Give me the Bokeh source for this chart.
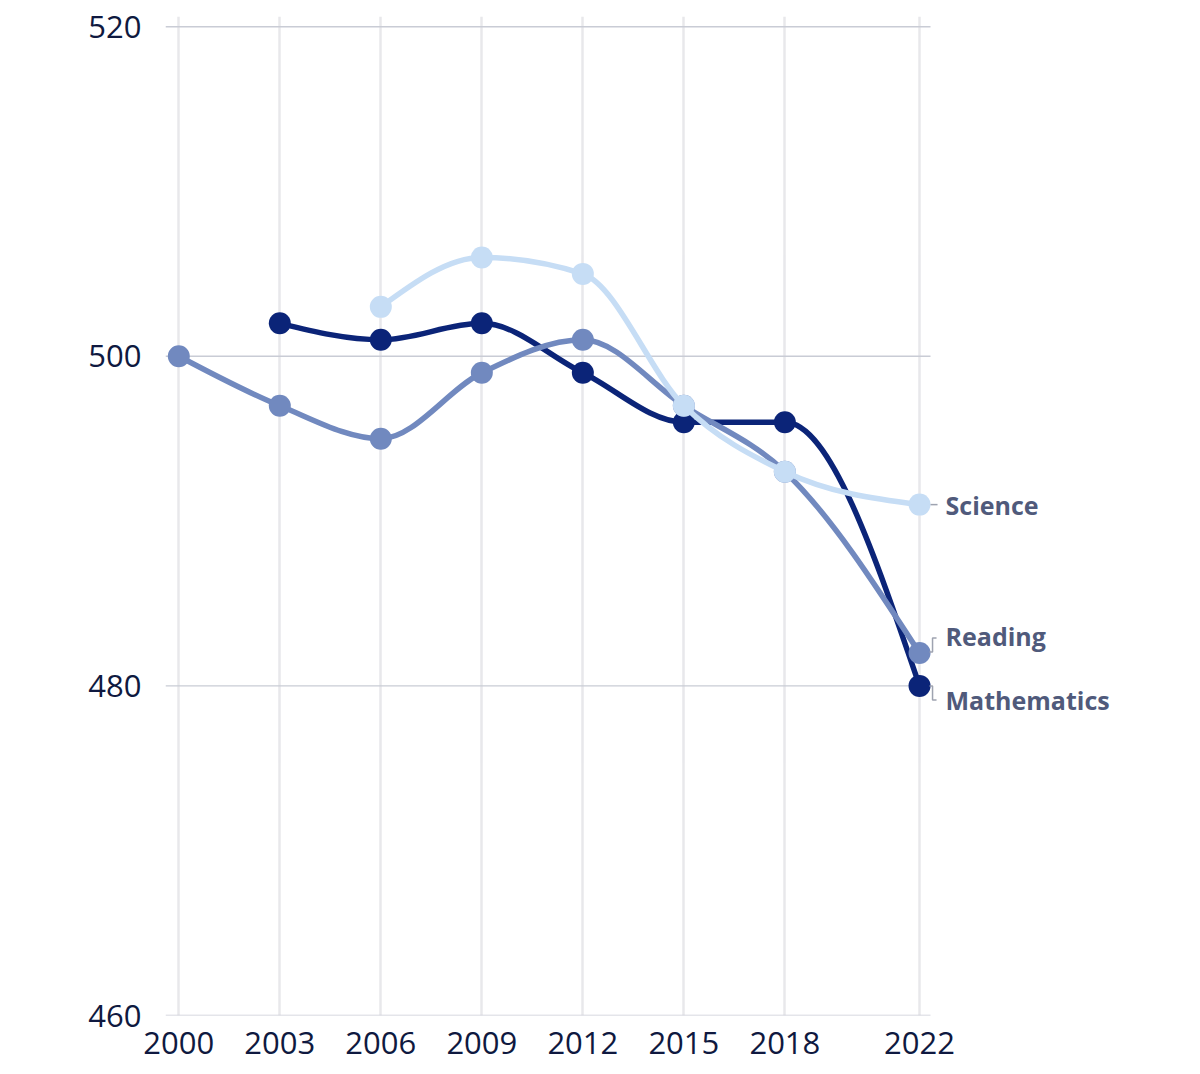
import numpy as np
from bokeh.plotting import figure
from bokeh.models import FixedTicker, ColumnDataSource
from bokeh.core.properties import value
from bokeh.embed import file_html
from bokeh.resources import INLINE

# ---- data ----
years_math = [2003, 2006, 2009, 2012, 2015, 2018, 2022]
math_scores = [502, 501, 502, 499, 496, 496, 480]
years_read = [2000, 2003, 2006, 2009, 2012, 2015, 2018, 2022]
read_scores = [500, 497, 495, 499, 501, 497, 493, 482]
years_sci = [2006, 2009, 2012, 2015, 2018, 2022]
sci_scores = [503, 506, 505, 497, 493, 491]
x_ticks = [2000, 2003, 2006, 2009, 2012, 2015, 2018, 2022]
y_ticks = [460, 480, 500, 520]
series_names = ["Mathematics", "Reading", "Science"]

C_MATH = "#0b2478"
C_READ = "#7189bf"
C_SCI = "#c6ddf5"
C_LABEL = "#505a7b"
C_TICK = "#0f1940"

# ---- layout ----
W, H = 1192, 1068
BL, BR, BT, BB = 165, 6, 16, 53
frame_w = W - BL - BR
frame_h = H - BT - BB
ppy = 33.67          # pixels per year
x_start = 2000 - 13.3 / ppy
x_end = x_start + frame_w / ppy
ppu = 16.48          # pixels per score point
y_start = 460
y_end = y_start + frame_h / ppu
grid_right = 2000 + (930 - 178.3) / ppy

p = figure(width=W, height=H, output_backend="svg", toolbar_location=None,
           x_range=(x_start, x_end), y_range=(y_start, y_end),
           min_border_left=BL, min_border_right=BR, min_border_top=BT, min_border_bottom=BB)
p.outline_line_color = None
p.background_fill_color = "white"

# axes
p.xaxis.ticker = FixedTicker(ticks=x_ticks)
p.yaxis.ticker = FixedTicker(ticks=y_ticks)
for ax in (p.xaxis[0], p.yaxis[0]):
    ax.axis_line_color = None
    ax.major_tick_line_color = None
    ax.minor_tick_line_color = None
    ax.major_label_text_font = "Open Sans"
    ax.major_label_text_font_size = "31px"
    ax.major_label_text_color = C_TICK
p.yaxis.major_label_standoff = 18
p.xaxis.major_label_standoff = 10

# grids
p.ygrid.grid_line_color = None
p.xgrid.ticker = FixedTicker(ticks=x_ticks)
p.xgrid.grid_line_color = "#e8e8eb"
p.xgrid.grid_line_width = 2.5

p.segment(x0=[x_start] * len(y_ticks), x1=[grid_right] * len(y_ticks), y0=y_ticks, y1=y_ticks,
          line_color="#c9ccd5", line_width=1.4)


def monotone_segments(xs, ys):
    xs = np.asarray(xs, float)
    ys = np.asarray(ys, float)
    n = len(xs)
    t = np.zeros(n)
    for i in range(1, n - 1):
        h0 = xs[i] - xs[i - 1]
        h1 = xs[i + 1] - xs[i]
        s0 = (ys[i] - ys[i - 1]) / h0
        s1 = (ys[i + 1] - ys[i]) / h1
        pp = (s0 * h1 + s1 * h0) / (h0 + h1)
        t[i] = (np.sign(s0) + np.sign(s1)) * min(abs(s0), abs(s1), 0.5 * abs(pp))
    t[0] = (3 * (ys[1] - ys[0]) / (xs[1] - xs[0]) - t[1]) / 2
    t[-1] = (3 * (ys[-1] - ys[-2]) / (xs[-1] - xs[-2]) - t[-2]) / 2
    dx = (xs[1:] - xs[:-1]) / 3
    return dict(x0=xs[:-1], y0=ys[:-1], x1=xs[1:], y1=ys[1:],
                cx0=xs[:-1] + dx, cy0=ys[:-1] + dx * t[:-1],
                cx1=xs[1:] - dx, cy1=ys[1:] - dx * t[1:])


for xs, ys, col in [(years_math, math_scores, C_MATH),
                    (years_read, read_scores, C_READ),
                    (years_sci, sci_scores, C_SCI)]:
    src = ColumnDataSource(monotone_segments(xs, ys))
    p.bezier(x0="x0", y0="y0", x1="x1", y1="y1", cx0="cx0", cy0="cy0", cx1="cx1", cy1="cy1",
             source=src, line_color=col, line_width=5.5, line_cap="round")
    p.scatter(xs, ys, size=22, fill_color=col, line_color=col, line_width=0)

# end labels with leader lines
last_x = x_ticks[-1]
def dxp(px):
    return last_x + px / ppy
def dyp(yval, px):
    return yval - px / ppu   # px positive = down on screen

sci_end, read_end, math_end = sci_scores[-1], read_scores[-1], math_scores[-1]
leaders_x = [
    [dxp(11), dxp(18)],
    [dxp(10), dxp(13), dxp(13), dxp(17)],
    [dxp(10), dxp(13), dxp(13), dxp(17)],
]
leaders_y = [
    [sci_end, sci_end],
    [dyp(read_end, -1), dyp(read_end, -1), dyp(read_end, -15), dyp(read_end, -15)],
    [math_end, math_end, dyp(math_end, 14), dyp(math_end, 14)],
]
p.multi_line(leaders_x, leaders_y, line_color="#9ea3b0", line_width=1.5)

p.text(x=[last_x] * 3, y=[math_end, read_end, sci_end], text=series_names,
       x_offset=[26, 26, 26], y_offset=[14, -17, 0],
       text_font=value("Open Sans"), text_font_style="bold", text_font_size="25px",
       text_color=C_LABEL, text_baseline="middle", text_align="left")

open("out.html", "w").write(file_html(p, INLINE))
